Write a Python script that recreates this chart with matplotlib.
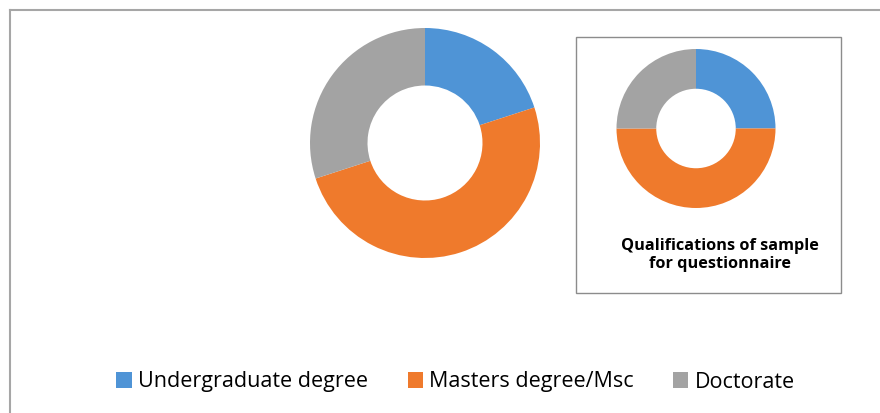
"""Donut charts: qualifications of questionnaire sample."""

import matplotlib.pyplot as plt
from matplotlib.patches import Patch, Rectangle
from matplotlib.lines import Line2D

plt.rcParams.update({
    "font.family": ["Open Sans", "DejaVu Sans"],
})

categories = ["Undergraduate degree", "Masters degree/Msc", "Doctorate"]
main_values = [20, 50, 30]
inset_values = [25, 50, 25]
colors = ["#4f94d6", "#ef7a2c", "#a3a3a3"]
title = "Qualifications of sample\nfor questionnaire"

W, H = 880, 413
fig = plt.figure(figsize=(W / 100, H / 100), dpi=100)


def px_axes(cx, cy, r):
    # axes centred on (cx, cy) in pixels from the top-left corner
    return fig.add_axes([(cx - r) / W, (H - cy - r) / H, 2 * r / W, 2 * r / H])


def donut(ax, values):
    ax.pie(values, colors=colors, startangle=90, counterclock=False,
           radius=1.0, wedgeprops=dict(width=0.5, edgecolor="none"))
    ax.set_xlim(-1, 1)
    ax.set_ylim(-1, 1)
    ax.set_aspect("equal")
    ax.axis("off")


# outer chart frame (only top and left edges visible)
fig.add_artist(Line2D([10 / W, 10 / W], [0, 1 - 10 / H], transform=fig.transFigure,
                      color="#a6a6a6", lw=1.5))
fig.add_artist(Line2D([10 / W, 1], [1 - 10 / H, 1 - 10 / H], transform=fig.transFigure,
                      color="#a6a6a6", lw=1.5))

# main donut
ax1 = px_axes(425, 143, 115)
donut(ax1, main_values)

# inset box with small donut and title
fig.add_artist(Rectangle((576 / W, 1 - 293 / H), (841 - 576) / W, (293 - 37) / H,
                         transform=fig.transFigure, fill=False,
                         edgecolor="#8c8c8c", lw=1.0))
ax2 = px_axes(696, 128.5, 79.5)
donut(ax2, inset_values)
fig.text(720 / W, 1 - 255 / H, title, ha="center", va="center",
         fontsize=11.7, fontweight="bold", linespacing=1.25)

handles = [Patch(facecolor=c, edgecolor="none") for c in colors]
fig.legend(handles, categories, loc="center", bbox_to_anchor=(455.5 / W, 1 - 382 / H),
           ncol=3, frameon=False, fontsize=15.5, handlelength=0.7, handleheight=0.7,
           handletextpad=0.28, columnspacing=1.86)

fig.savefig("out.png", dpi=100)
